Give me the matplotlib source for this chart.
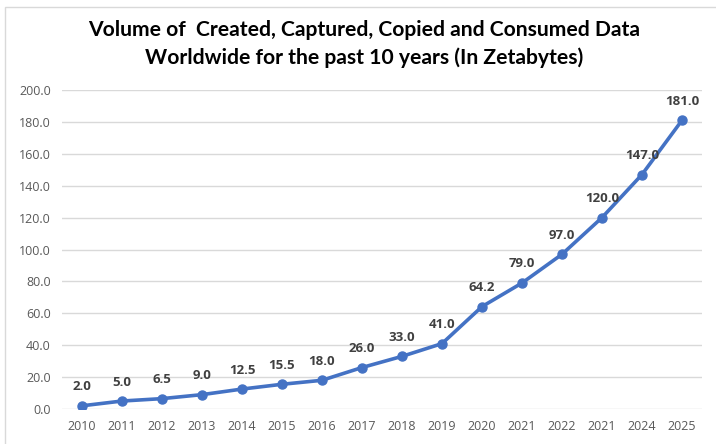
import matplotlib.pyplot as plt
import matplotlib.patches as patches

# data (x labels kept exactly as shown, incl. the repeated 2021)
years = ["2010", "2011", "2012", "2013", "2014", "2015", "2016", "2017",
         "2018", "2019", "2020", "2021", "2022", "2021", "2024", "2025"]
volume = [2.0, 5.0, 6.5, 9.0, 12.5, 15.5, 18.0, 26.0,
          33.0, 41.0, 64.2, 79.0, 97.0, 120.0, 147.0, 181.0]
yticks = [0, 20, 40, 60, 80, 100, 120, 140, 160, 180, 200]

blue = "#4472C4"
grid_col = "#D9D9D9"
tick_col = "#595959"
lab_col = "#404040"

fig = plt.figure(figsize=(7.16, 4.44), dpi=100)
ax = fig.add_axes([62 / 716, 1 - 409 / 444, 640 / 716, 319 / 444])

x = list(range(len(years)))
ax.plot(x, volume, color=blue, lw=2.6, marker="o", ms=6.5, zorder=3)

for xi, v in zip(x, volume):
    ax.annotate("%.1f" % v, (xi, v), xytext=(0, 9), textcoords="offset points",
                ha="center", va="bottom", fontsize=9.5, fontweight="bold",
                color=lab_col, family="Open Sans")

ax.set_xlim(-0.5, len(years) - 0.5)
ax.set_ylim(0, 200)
ax.set_yticks(yticks)
ax.set_yticklabels(["%.1f" % t for t in yticks])
ax.set_xticks(x)
ax.set_xticklabels(years)
ax.grid(axis="y", color=grid_col, lw=1)
ax.set_axisbelow(True)
for s in ax.spines.values():
    s.set_visible(False)
ax.tick_params(length=0, labelsize=9, labelcolor=tick_col, pad=8)
for t in ax.get_xticklabels() + ax.get_yticklabels():
    t.set_family("Open Sans")

fig.text(0.508, 0.955, "Volume of  Created, Captured, Copied and Consumed Data\n"
         "Worldwide for the past 10 years (In Zetabytes)",
         ha="center", va="top", fontsize=15.2, fontweight="bold",
         family="Lato", linespacing=1.42, color="black")

# light frame around the chart area
fig.patches.append(patches.Rectangle((5 / 716, -0.01), 1.0, 1 - 7 / 444 + 0.01,
                                     transform=fig.transFigure, fill=False,
                                     edgecolor="#D9D9D9", lw=1))

fig.savefig("out.png", dpi=100)
